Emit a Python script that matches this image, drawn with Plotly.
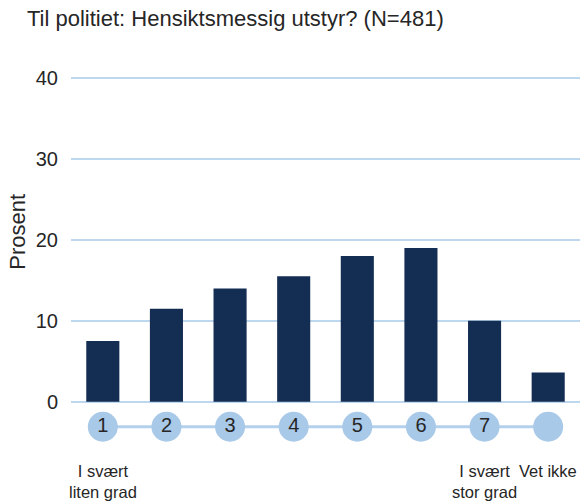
import plotly.graph_objects as go

categories = ["1", "2", "3", "4", "5", "6", "7", "Vet ikke"]
circle_labels = ["1", "2", "3", "4", "5", "6", "7", ""]
values = [7.5, 11.5, 14.0, 15.5, 18.0, 19.0, 10.0, 3.6]
bottom_labels = {0: "I svært<br>liten grad", 6: "I svært<br>stor grad", 7: "Vet ikke"}
y_ticks = [0, 10, 20, 30, 40]
title = "Til politiet: Hensiktsmessig utstyr? (N=481)"

FONT = "Arial, Liberation Sans, Helvetica, sans-serif"
TXT = "#262626"
BAR = "#142d52"
CIRC = "#a9c9e8"
GRID = "#bdd7ee"

xs = list(range(len(categories)))

fig = go.Figure()
fig.add_trace(go.Bar(x=xs, y=values, width=0.52, marker=dict(color=BAR, line=dict(width=0)),
                     hoverinfo="skip"))
fig.add_trace(go.Scatter(x=xs, y=[-3.1] * len(xs), mode="lines+markers+text",
                         text=circle_labels, textposition="middle center",
                         textfont=dict(family=FONT, size=20, color=TXT),
                         marker=dict(size=30, color=CIRC, line=dict(width=0)),
                         line=dict(color="#b3d0ec", width=3), cliponaxis=False,
                         hoverinfo="skip"))

annotations = []
for i, lab in bottom_labels.items():
    annotations.append(dict(x=i, y=-7.25, xref="x", yref="y", text=lab, showarrow=False,
                            font=dict(family=FONT, size=16.5, color=TXT),
                            xanchor="center", yanchor="top", align="center"))
annotations.append(dict(x=0, xref="paper", xshift=-53, y=21, yref="y", text="Prosent",
                        textangle=-90, showarrow=False, xanchor="center", yanchor="middle",
                        font=dict(family=FONT, size=22, color=TXT)))

fig.update_layout(
    width=584, height=501,
    margin=dict(l=71, r=4, t=74, b=2),
    paper_bgcolor="white", plot_bgcolor="white",
    showlegend=False,
    title=dict(text=title, x=27 / 584, xanchor="left", xref="container",
               y=1 - 18 / 501, yanchor="middle", yref="container",
               font=dict(family=FONT, size=22, color=TXT)),
    xaxis=dict(range=[-0.5, 7.5], showgrid=False, zeroline=False, showticklabels=False,
               showline=False, ticks=""),
    yaxis=dict(range=[-12.03, 40.5], tickvals=y_ticks, ticktext=[str(v) for v in y_ticks],
               showgrid=True, gridcolor=GRID, gridwidth=1.6, zeroline=False, showline=False,
               ticks="outside", ticklen=8, tickcolor="rgba(0,0,0,0)",
               tickfont=dict(family=FONT, size=20, color=TXT)),
    annotations=annotations,
    bargap=0.48,
)

fig.write_html("out.html", config={"displayModeBar": False},
               post_script="document.body.style.margin='0';document.body.style.padding='0';")
